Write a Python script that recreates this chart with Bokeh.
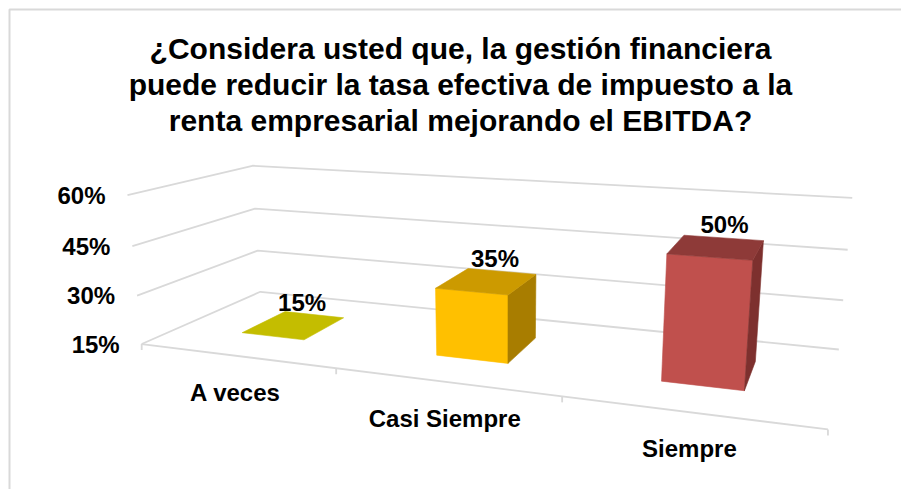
import numpy as np
from bokeh.plotting import figure
from bokeh.models import Range1d
from bokeh.core.properties import value
from bokeh.embed import file_html
from bokeh.resources import INLINE

# ---------------- data ----------------
categories = ["A veces", "Casi Siempre", "Siempre"]
values = [15, 35, 50]
value_labels = ["15%", "35%", "50%"]
y_ticks = [15, 30, 45, 60]
y_tick_labels = ["15%", "30%", "45%", "60%"]
title_lines = [
    "¿Considera usted que, la gestión financiera",
    "puede reducir la tasa efectiva de impuesto a la",
    "renta empresarial mejorando el EBITDA?",
]

# ---------------- styles ----------------
front_colors = ["#D6CF00", "#FFC000", "#C0504D"]
top_colors = ["#C4BD00", "#CC9A00", "#8E3A38"]
side_colors = ["#A39D00", "#A87D00", "#7D302E"]
GRID = "#D9D9D9"
FONT = "Liberation Sans"

# ---------------- layout / 3D projection ----------------
W, H = 901, 489
OX, OY = 0, 0          # page offset of the canvas
Y_MIN, Y_MAX = y_ticks[0], y_ticks[-1]
N = len(categories)
BAR_W = 1.0 / 3.0
Z0, Z1 = 0.31, 0.70

# calibration of the perspective camera: (cat-x, value, depth) -> pixel
calib = [
    (0, 15, 0, 141.7, 343.3), (0, 30, 0, 136.0, 295.0),
    (0, 45, 0, 131.7, 245.7), (0, 60, 0, 127.3, 194.3),
    (0, 15, 1, 260.0, 291.0), (0, 30, 1, 256.7, 250.0),
    (0, 45, 1, 255.0, 208.3), (0, 60, 1, 251.7, 165.7),
    (3, 15, 1, 838.3, 349.3), (3, 30, 1, 842.7, 299.3),
    (3, 45, 1, 847.3, 249.3), (3, 60, 1, 851.7, 197.3),
    (1, 15, 0, 335.7, 368.3), (2, 15, 0, 561.7, 396.7),
    (3, 15, 0, 827.3, 428.3),
]


def norm_y(v):
    return (v - Y_MIN) / (Y_MAX - Y_MIN)


rows = []
for X, Y, Z, u, v in calib:
    Yn = norm_y(Y)
    u, v = u / 1000.0, v / 1000.0
    rows.append([X, Yn, Z, 1, 0, 0, 0, 0, -u * X, -u * Yn, -u * Z, -u])
    rows.append([0, 0, 0, 0, X, Yn, Z, 1, -v * X, -v * Yn, -v * Z, -v])
_, _, Vt = np.linalg.svd(np.array(rows, dtype=float))
P = Vt[-1].reshape(3, 4)


def proj(X, Y, Z):
    h = P @ np.array([X, norm_y(Y), Z, 1.0])
    return h[0] / h[2] * 1000.0, h[1] / h[2] * 1000.0


def poly(pts):
    xy = [proj(*p) for p in pts]
    return [a for a, b in xy], [b for a, b in xy]


p = figure(width=W, height=H, output_backend="svg", toolbar_location=None,
           x_range=Range1d(OX, OX + W), y_range=Range1d(OY + H, OY),
           x_axis_type=None, y_axis_type=None, min_border=0)
p.outline_line_color = None
p.background_fill_color = "white"
p.border_fill_color = "white"
p.grid.visible = False

# chart-area border (top and left visible)
p.line([9, 9, OX + W], [OY + H, 9, 9], line_color=GRID, line_width=2)

# gridlines on the left and back walls
for t in y_ticks:
    xs, ys = poly([(0, t, 0), (0, t, 1), (N, t, 1)])
    p.line(xs, ys, line_color=GRID, line_width=1.8)

# floor front edge (category axis) with ticks
xs, ys = poly([(0, Y_MIN, 0), (N, Y_MIN, 0)])
p.line(xs, ys, line_color=GRID, line_width=1.8)
for i in range(N + 1):
    x0, y0 = proj(i, Y_MIN, 0)
    p.segment(x0=[x0], y0=[y0], x1=[x0], y1=[y0 + 6], line_color=GRID, line_width=1.8)

# bars
fx, fy, fc = [], [], []
for i, v in enumerate(values):
    xa, xb = i + (1 - BAR_W) / 2, i + (1 + BAR_W) / 2
    faces = [
        ([(xa, Y_MIN, Z0), (xb, Y_MIN, Z0), (xb, v, Z0), (xa, v, Z0)], front_colors[i], True),
        ([(xb, Y_MIN, Z0), (xb, Y_MIN, Z1), (xb, v, Z1), (xb, v, Z0)], side_colors[i], True),
        ([(xa, v, Z0), (xb, v, Z0), (xb, v, Z1), (xa, v, Z1)], top_colors[i], False),
    ]
    for pts, c, vertical in faces:
        if vertical and v == Y_MIN:
            continue
        a, b = poly(pts)
        fx.append(a); fy.append(b); fc.append(c)
p.patches(fx, fy, fill_color=fc, line_color=fc, line_width=0.6)

# value labels
lx, ly = [], []
for i, v in enumerate(values):
    cx, cy = proj(i + 0.5, v, (Z0 + Z1) / 2)
    lx.append(cx + 8); ly.append(cy - 23)
p.text(lx, ly, text=value_labels, text_font=value(FONT), text_font_style="bold",
       text_font_size="24px", text_align="center", text_baseline="middle", text_color="black")

# category labels
cx_, cy_ = [], []
for i in range(N):
    x0, y0 = proj(i + 0.5, Y_MIN, 0)
    cx_.append(x0); cy_.append(y0 + 36.5)
p.text(cx_, cy_, text=categories, text_font=value(FONT), text_font_style="bold",
       text_font_size="24px", text_align="center", text_baseline="middle", text_color="black")

# value axis labels
tx, ty = [], []
for t in y_ticks:
    x0, y0 = proj(0, t, 0)
    tx.append(x0 - 22); ty.append(y0)
p.text(tx, ty, text=y_tick_labels, text_font=value(FONT), text_font_style="bold",
       text_font_size="24px", text_align="right", text_baseline="middle", text_color="black")

# title
p.text([460] * len(title_lines), [48 + 36 * k for k in range(len(title_lines))],
       text=title_lines, text_font=value(FONT), text_font_style="bold",
       text_font_size="30px", text_align="center", text_baseline="middle", text_color="black")

open("out.html", "w").write(file_html(p, INLINE))
